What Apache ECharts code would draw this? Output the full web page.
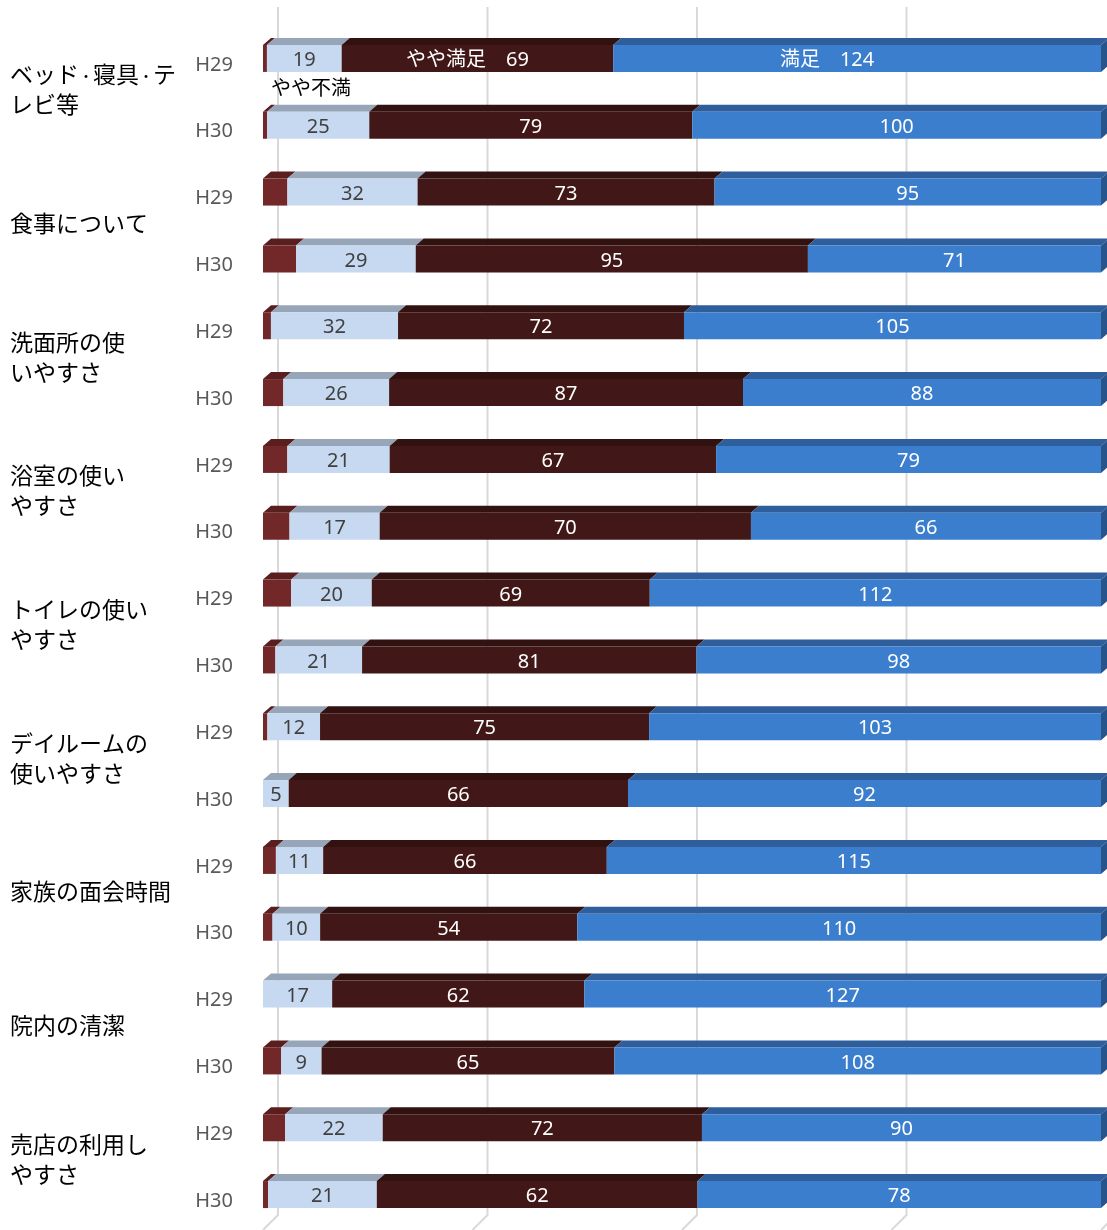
<!DOCTYPE html>
<html><head><meta charset="utf-8">
<script src="https://cdn.jsdelivr.net/npm/echarts@6/dist/echarts.min.js"></script>
<style>html,body{margin:0;padding:0;background:#fff}#c{width:1107px;height:1230px}</style>
</head><body><div id="c"></div>
<script>
// ---- data ----
const groups = ['ベッド・寝具・テ\nレビ等','食事について','洗面所の使\nいやすさ','浴室の使い\nやすさ','トイレの使い\nやすさ','デイルームの\n使いやすさ','家族の面会時間','院内の清潔','売店の利用し\nやすさ'];
const years = ['H29','H30'];
const seriesNames = ['不満','やや不満','やや満足','満足'];
const fuman       = [1,1, 6,8, 2,5, 5,5, 7,3, 1,0, 3,2, 0,4, 5,1];
const yayaFuman   = [19,25, 32,29, 32,26, 21,17, 20,21, 12,5, 11,10, 17,9, 22,21];
const yayaManzoku = [69,79, 73,95, 72,87, 67,70, 69,81, 75,66, 66,54, 62,65, 72,62];
const manzoku     = [124,100, 95,71, 105,88, 79,66, 112,98, 103,92, 115,110, 127,108, 90,78];
const gridTicks = [0,25,50,75,100];

// ---- styling ----
const frontColors = ['#722829','#c6d9f0','#411817','#3b7ecd'];
const topColors   = ['#5a1e1e','#97a5b8','#311211','#2e5f9c'];
const sideColor   = '#28548c';
const labelColors = [null,'#404040','#ffffff','#ffffff'];
const firstRowLabelShift = [0,0,-10,-30];
const FONT = '"Noto Sans","Noto Sans CJK JP",sans-serif';

const all = [fuman, yayaFuman, yayaManzoku, manzoku];
const rowIds = fuman.map((_, i) => String(i));
const totals = fuman.map((_, i) => all.reduce((s, a) => s + a[i], 0));

const seriesData = all.map((arr, si) => arr.map((v, i) => {
  let start = 0;
  for (let k = 0; k < si; k++) start += all[k][i];
  return [start / totals[i] * 100, (start + v) / totals[i] * 100, i, v];
}));

function makeRender(si) {
  return function (params, api) {
    const p0 = api.coord([api.value(0), api.value(2)]);
    const p1 = api.coord([api.value(1), api.value(2)]);
    const cy = p0[1];
    const h = 27, dx = 8, dy = 7;
    const top = cy - h / 2, bot = cy + h / 2;
    const a = p0[0], b = p1[0];
    const v = api.value(3);
    const row = api.value(2);
    const ch = [];
    if (b - a > 0.01) {
      ch.push({type:'polygon', shape:{points:[[a,top],[a+dx,top-dy],[b+dx,top-dy],[b,top]]}, style:{fill:topColors[si]}});
      ch.push({type:'rect', shape:{x:a, y:top, width:b-a, height:h}, style:{fill:frontColors[si]}});
      if (si === 3) {
        ch.push({type:'polygon', shape:{points:[[b,top],[b+dx,top-dy],[b+dx,bot-dy],[b,bot]]}, style:{fill:sideColor}});
      }
      if (si > 0) {
        let txt = String(v);
        let lx = (a + b) / 2;
        if (row === 0 && si >= 2) { txt = seriesNames[si] + '\u3000' + v; lx += firstRowLabelShift[si]; }
        ch.push({type:'text', style:{text:txt, x:lx, y:cy+2, fill:labelColors[si], fontSize:20, fontFamily:FONT, align:'center', verticalAlign:'middle'}});
        if (row === 0 && si === 1) {
          ch.push({type:'text', style:{text:seriesNames[1], x:a+4, y:cy+31, fill:'#000', fontSize:20, fontFamily:FONT, align:'left', verticalAlign:'middle'}});
        }
      }
    }
    return {type:'group', children:ch};
  };
}

const chart = echarts.init(document.getElementById('c'), null, {renderer:'canvas'});
const series = [{
  type:'custom', name:'grid', z:0, silent:true, clip:false,
  data: gridTicks.map(t => [t, 0]),
  encode:{x:0, y:1},
  renderItem: function (params, api) {
    const cs = params.coordSys;
    const x = api.coord([api.value(0), 0])[0] + 15;
    const yTop = cs.y - 18, yBot = cs.y + cs.height - 13;
    return {type:'polyline', shape:{points:[[x,yTop],[x,yBot],[x-15,yBot+15]]}, style:{stroke:'#d9d9d9', lineWidth:2, fill:null}};
  }
}];
all.forEach((arr, si) => {
  series.push({
    type:'custom', name:seriesNames[si], z:2, clip:false,
    data: seriesData[si], encode:{x:[0,1], y:2},
    renderItem: makeRender(si)
  });
});

chart.setOption({
  backgroundColor:'#ffffff',
  animation:false,
  grid:{left:263, right:6, top:25, bottom:2, containLabel:false},
  xAxis:{type:'value', min:0, max:100, show:false},
  yAxis:[{
    type:'category', data:rowIds, inverse:true,
    axisLine:{show:false}, axisTick:{show:false}, splitLine:{show:false},
    axisLabel:{formatter:(val, i) => years[i % 2], color:'#595959', fontSize:20, fontFamily:FONT, margin:30, verticalAlign:'top', lineHeight:13}
  },{
    type:'category', data:groups, inverse:true, position:'left',
    axisLine:{show:false}, axisTick:{show:false}, splitLine:{show:false},
    axisLabel:{
      color:'#000', fontSize:23, lineHeight:30, fontFamily:FONT, margin:253, align:'left',
      formatter:(val) => val.split('\n').map(line => line.replace(/・/g, '{d|・}')).join('\n'),
      rich:{d:{fontSize:14, lineHeight:30, color:'#000', fontFamily:FONT}}
    }
  }],
  series: series
});
</script>
</body></html>
